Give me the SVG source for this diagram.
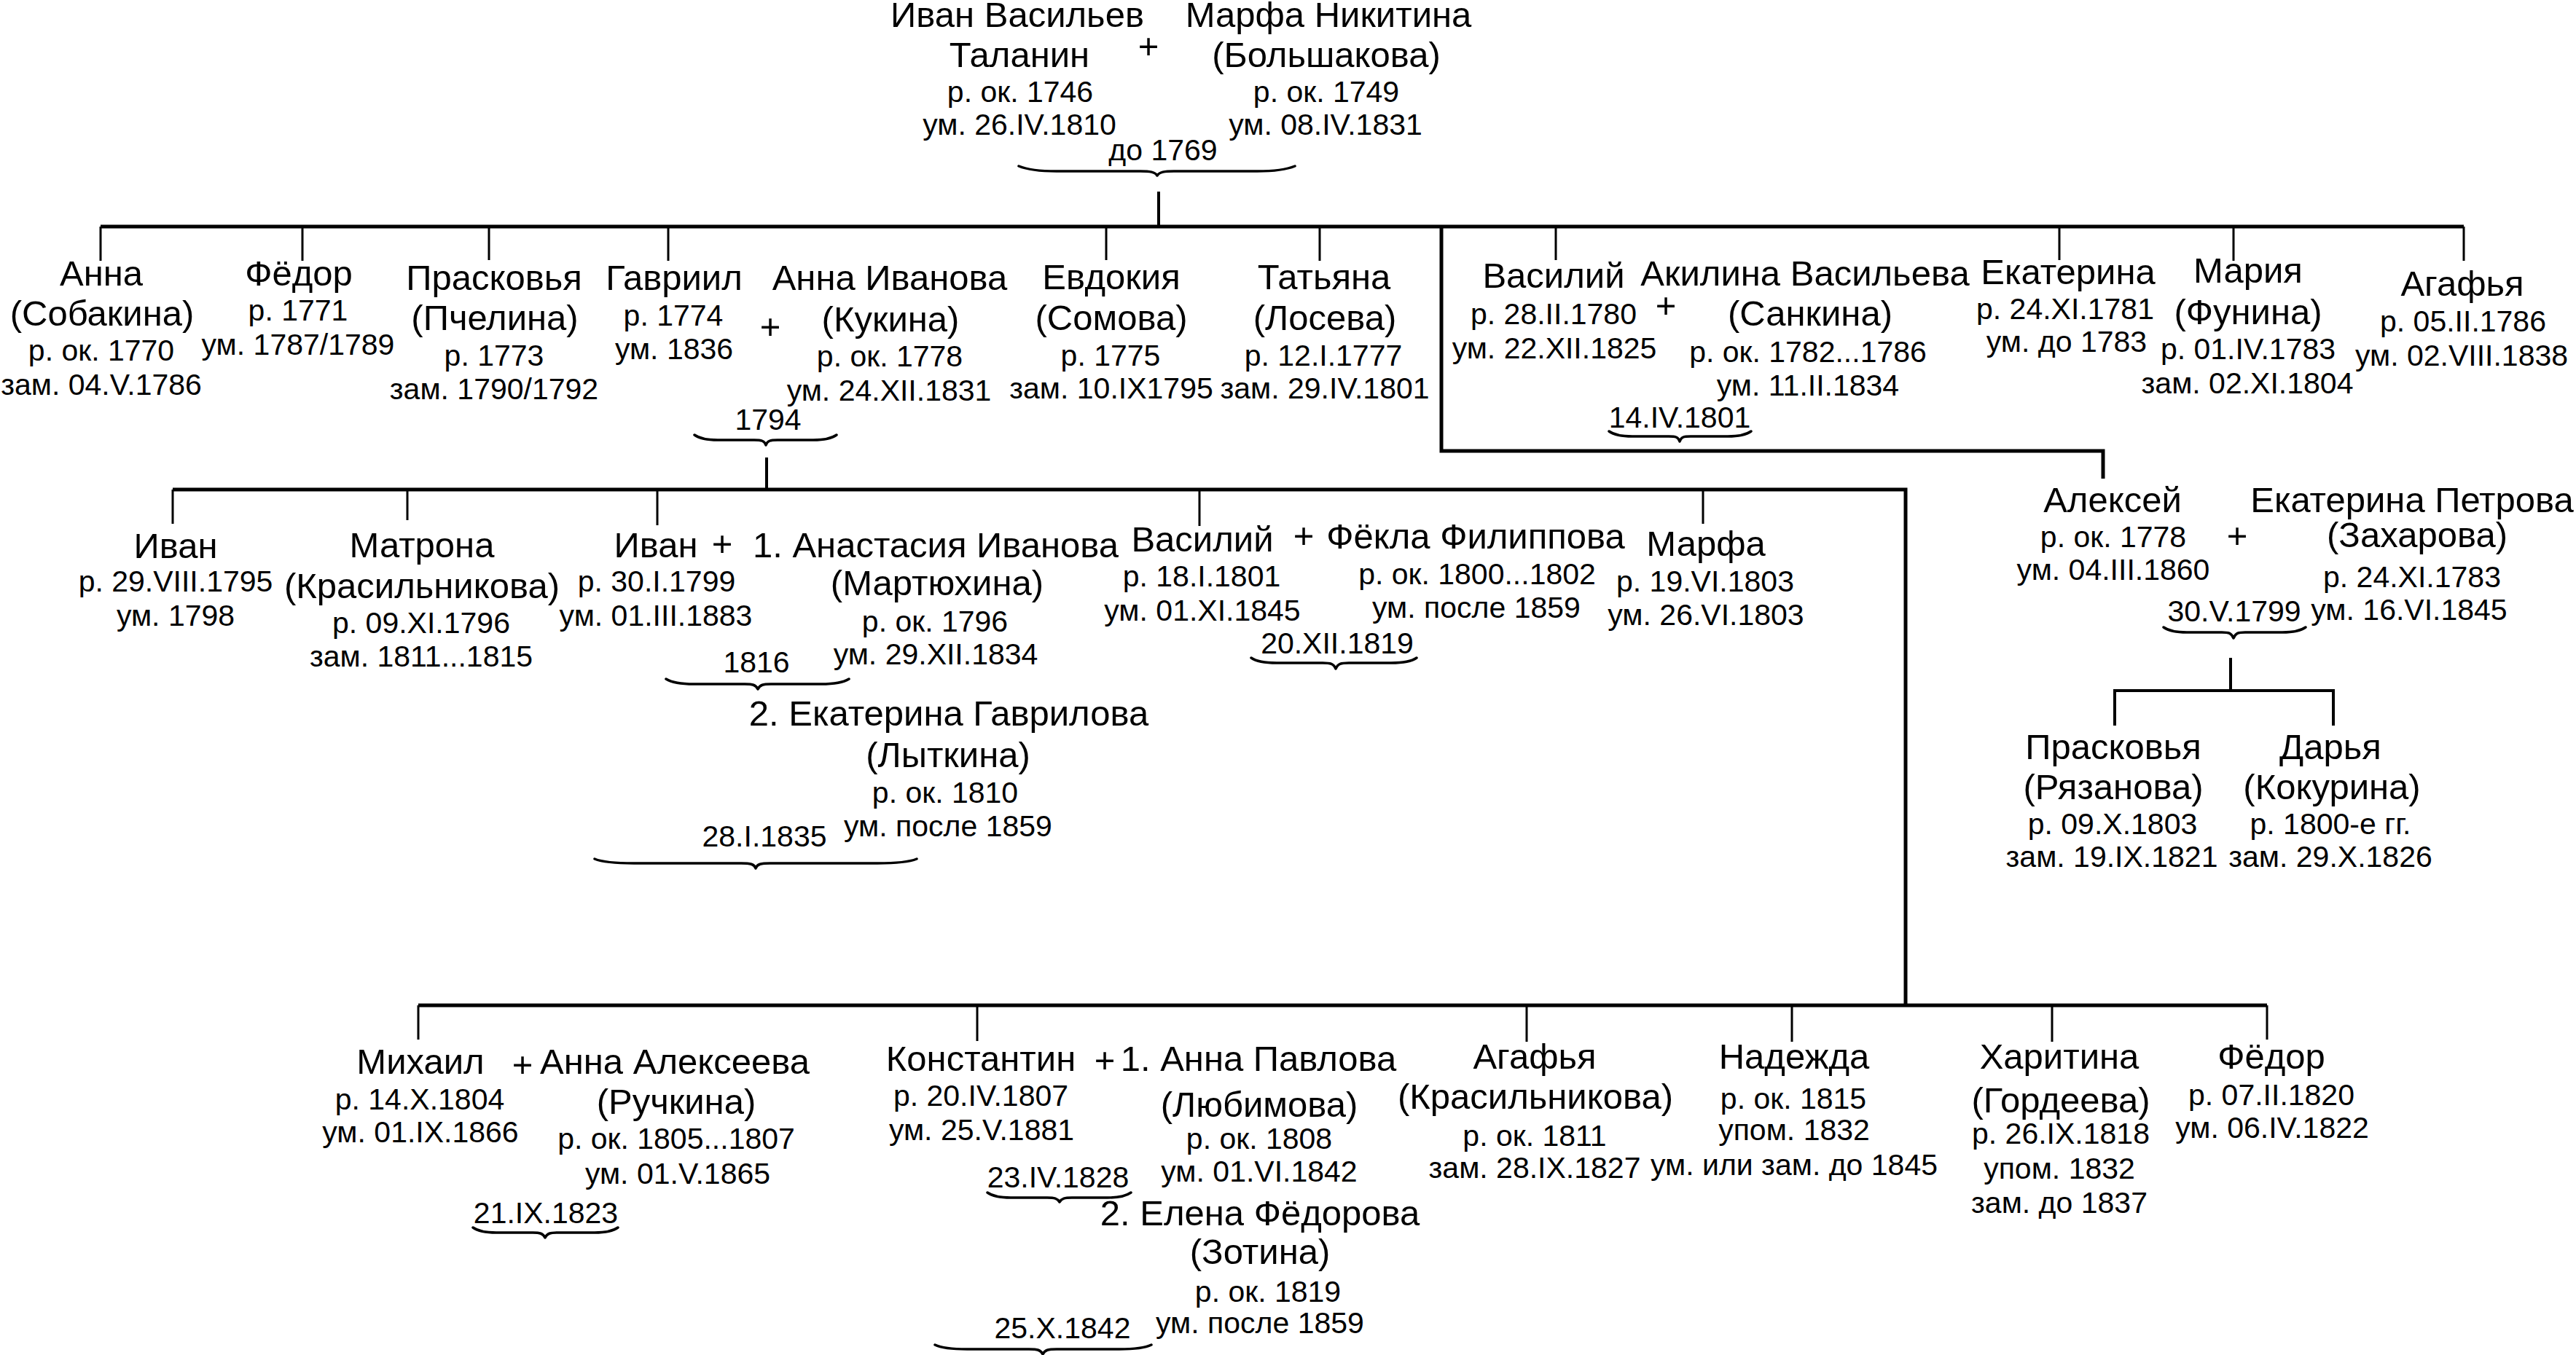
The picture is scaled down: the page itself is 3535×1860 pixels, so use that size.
<svg xmlns="http://www.w3.org/2000/svg" width="3535" height="1860" viewBox="0 0 3535 1860">
<style>
text{font-family:"Liberation Sans",Arial,sans-serif;fill:#000;text-anchor:middle}
.n{font-size:49px}
.d{font-size:41px}
.p{font-size:49px}
.bus{stroke:#000;stroke-width:5;fill:none}
.tr{stroke:#000;stroke-width:4;fill:none}
.dr{stroke:#000;stroke-width:3;fill:none}
.br{stroke:#000;stroke-width:3.5;fill:none;stroke-linejoin:round;stroke-linecap:round}
</style>
<rect width="3535" height="1860" fill="#fff"/>
<g id="connectors">
<path class="tr" d="M1590 263 V311"/>
<path class="bus" d="M138 311 H3381"/>
<path class="dr" d="M138 311 V358 M415 311 V358 M671 311 V357 M917 311 V358 M1518 311 V357 M1811 311 V358 M2135 311 V357 M2826 311 V357 M3065 311 V358 M3381 311 V358"/>
<path class="bus" d="M1978 311 V619 H2886 V657"/>
<path class="tr" d="M1052 628 V672"/>
<path class="bus" d="M237 672 H2615 V1380"/>
<path class="dr" d="M237 672 V719 M559 672 V714 M902 672 V721 M1646 672 V722 M2337 672 V719"/>
<path class="tr" d="M3061 903 V948"/>
<path class="tr" d="M2902 996 V948 H3202 V996"/>
<path class="bus" d="M574 1380 H3111"/>
<path class="dr" d="M574 1380 V1427 M1341 1380 V1429 M2095 1380 V1430 M2459 1380 V1430 M2816 1380 V1430 M3111 1380 V1427"/>
<path class="br" d="M1398 228 C1410 233 1425 235 1450 235 L1565 235 C1578 235 1585 236 1588 241 C1591 236 1598 235 1611 235 L1725 235 C1750 235 1765 233 1777 228"/>
<path class="br" d="M953 597 C960 602 970 604 985 604 L1035 604 C1045 604 1049 605 1051 611 C1053 605 1057 604 1067 604 L1116 604 C1131 604 1141 602 1148 597"/>
<path class="br" d="M2208 592 C2215 597 2225 599 2240 599 L2290 599 C2300 599 2303 600 2305 606 C2307 600 2310 599 2320 599 L2371 599 C2386 599 2396 597 2403 592"/>
<path class="br" d="M914 932 C922 937 934 939 952 939 L1022 939 C1033 939 1037 940 1040 946 C1043 940 1047 939 1058 939 L1127 939 C1145 939 1157 937 1165 932"/>
<path class="br" d="M816 1179 C828 1184 845 1185 870 1185 L1017 1185 C1030 1185 1035 1186 1037 1192 C1039 1186 1044 1185 1057 1185 L1204 1185 C1229 1185 1246 1184 1258 1179"/>
<path class="br" d="M1717 903 C1724 908 1735 910 1752 910 L1815 910 C1826 910 1830 911 1833 918 C1836 911 1840 910 1851 910 L1909 910 C1926 910 1937 908 1944 903"/>
<path class="br" d="M2969 861 C2976 866 2986 868 3001 868 L3049 868 C3059 868 3062 869 3065 876 C3068 869 3071 868 3081 868 L3132 868 C3147 868 3157 866 3164 861"/>
<path class="br" d="M649 1685 C656 1690 666 1692 681 1692 L731 1692 C741 1692 745 1693 748 1699 C751 1693 755 1692 765 1692 L816 1692 C831 1692 841 1690 848 1685"/>
<path class="br" d="M1355 1637 C1362 1642 1372 1644 1387 1644 L1437 1644 C1447 1644 1451 1645 1454 1650 C1457 1645 1461 1644 1471 1644 L1520 1644 C1535 1644 1545 1642 1552 1637"/>
<path class="br" d="M1283 1846 C1293 1851 1307 1852 1327 1852 L1412 1852 C1424 1852 1428 1853 1431 1859 C1434 1853 1438 1852 1450 1852 L1536 1852 C1556 1852 1570 1851 1580 1846"/>
</g>
<g id="ivan-talanin">
<text class="n" x="1396" y="37">Иван Васильев</text>
<text class="n" x="1399" y="92">Таланин</text>
<text class="d" x="1400" y="140">р. ок. 1746</text>
<text class="d" x="1399" y="185">ум. 26.IV.1810</text>
</g>
<g id="plus-top"><text class="p" x="1576" y="80">+</text></g>
<g id="marfa-nikitina">
<text class="n" x="1823" y="37">Марфа Никитина</text>
<text class="n" x="1820" y="92">(Большакова)</text>
<text class="d" x="1820" y="140">р. ок. 1749</text>
<text class="d" x="1819" y="185">ум. 08.IV.1831</text>
</g>
<g id="marr-top"><text class="d" x="1596" y="220">до 1769</text></g>
<g id="anna-1770">
<text class="n" x="139" y="392">Анна</text>
<text class="n" x="140" y="447">(Собакина)</text>
<text class="d" x="139" y="495">р. ок. 1770</text>
<text class="d" x="139" y="542">зам. 04.V.1786</text>
</g>
<g id="fedor-1771">
<text class="n" x="410" y="392">Фёдор</text>
<text class="d" x="409" y="440">р. 1771</text>
<text class="d" x="409" y="487">ум. 1787/1789</text>
</g>
<g id="praskovya-1773">
<text class="n" x="678" y="398">Прасковья</text>
<text class="n" x="679" y="453">(Пчелина)</text>
<text class="d" x="678" y="502">р. 1773</text>
<text class="d" x="678" y="548">зам. 1790/1792</text>
</g>
<g id="gavriil">
<text class="n" x="925" y="398">Гавриил</text>
<text class="d" x="924" y="447">р. 1774</text>
<text class="d" x="925" y="493">ум. 1836</text>
</g>
<g id="plus-gavriil"><text class="p" x="1057" y="465">+</text></g>
<g id="anna-kukina">
<text class="n" x="1221" y="398">Анна Иванова</text>
<text class="n" x="1222" y="455">(Кукина)</text>
<text class="d" x="1221" y="503">р. ок. 1778</text>
<text class="d" x="1220" y="550">ум. 24.XII.1831</text>
</g>
<g id="marr-1794"><text class="d" x="1054" y="590">1794</text></g>
<g id="evdokiya">
<text class="n" x="1525" y="397">Евдокия</text>
<text class="n" x="1525" y="453">(Сомова)</text>
<text class="d" x="1524" y="502">р. 1775</text>
<text class="d" x="1525" y="547">зам. 10.IX1795</text>
</g>
<g id="tatyana">
<text class="n" x="1817" y="397">Татьяна</text>
<text class="n" x="1818" y="453">(Лосева)</text>
<text class="d" x="1816" y="502">р. 12.I.1777</text>
<text class="d" x="1818" y="547">зам. 29.IV.1801</text>
</g>
<g id="vasiliy-1780">
<text class="n" x="2132" y="395">Василий</text>
<text class="d" x="2132" y="445">р. 28.II.1780</text>
<text class="d" x="2133" y="492">ум. 22.XII.1825</text>
</g>
<g id="plus-vasiliy"><text class="p" x="2286" y="436">+</text></g>
<g id="akilina">
<text class="n" x="2477" y="392">Акилина Васильева</text>
<text class="n" x="2484" y="447">(Санкина)</text>
<text class="d" x="2481" y="497">р. ок. 1782...1786</text>
<text class="d" x="2481" y="543">ум. 11.II.1834</text>
</g>
<g id="marr-1801"><text class="d" x="2305" y="587">14.IV.1801</text></g>
<g id="ekaterina-1781">
<text class="n" x="2838" y="390">Екатерина</text>
<text class="d" x="2834" y="438">р. 24.XI.1781</text>
<text class="d" x="2836" y="483">ум. до 1783</text>
</g>
<g id="mariya-1783">
<text class="n" x="3085" y="388">Мария</text>
<text class="n" x="3085" y="445">(Фунина)</text>
<text class="d" x="3085" y="493">р. 01.IV.1783</text>
<text class="d" x="3084" y="540">зам. 02.XI.1804</text>
</g>
<g id="agafya-1786">
<text class="n" x="3379" y="406">Агафья</text>
<text class="d" x="3380" y="455">р. 05.II.1786</text>
<text class="d" x="3378" y="502">ум. 02.VIII.1838</text>
</g>
<g id="ivan-1795">
<text class="n" x="241" y="766">Иван</text>
<text class="d" x="241" y="812">р. 29.VIII.1795</text>
<text class="d" x="241" y="859">ум. 1798</text>
</g>
<g id="matrona">
<text class="n" x="579" y="765">Матрона</text>
<text class="n" x="579" y="821">(Красильникова)</text>
<text class="d" x="578" y="869">р. 09.XI.1796</text>
<text class="d" x="578" y="915">зам. 1811...1815</text>
</g>
<g id="ivan-1799">
<text class="n" x="900" y="765">Иван</text>
<text class="d" x="901" y="812">р. 30.I.1799</text>
<text class="d" x="900" y="859">ум. 01.III.1883</text>
</g>
<g id="plus-ivan"><text class="p" x="991" y="763">+</text></g>
<g id="anastasiya">
<text class="n" x="1284" y="765">1. Анастасия Иванова</text>
<text class="n" x="1286" y="817">(Мартюхина)</text>
<text class="d" x="1283" y="867">р. ок. 1796</text>
<text class="d" x="1284" y="912">ум. 29.XII.1834</text>
</g>
<g id="marr-1816"><text class="d" x="1038" y="923">1816</text></g>
<g id="ekaterina-lytkina">
<text class="n" x="1302" y="996">2. Екатерина Гаврилова</text>
<text class="n" x="1301" y="1053">(Лыткина)</text>
<text class="d" x="1297" y="1102">р. ок. 1810</text>
<text class="d" x="1301" y="1148">ум. после 1859</text>
</g>
<g id="marr-1835"><text class="d" x="1049" y="1162">28.I.1835</text></g>
<g id="vasiliy-1801">
<text class="n" x="1650" y="757">Василий</text>
<text class="d" x="1649" y="805">р. 18.I.1801</text>
<text class="d" x="1650" y="852">ум. 01.XI.1845</text>
</g>
<g id="plus-vasiliy2"><text class="p" x="1789" y="752">+</text></g>
<g id="fekla">
<text class="n" x="2025" y="753">Фёкла Филиппова</text>
<text class="d" x="2027" y="802">р. ок. 1800...1802</text>
<text class="d" x="2026" y="848">ум. после 1859</text>
</g>
<g id="marr-1819"><text class="d" x="1835" y="897">20.XII.1819</text></g>
<g id="marfa-1803">
<text class="n" x="2341" y="763">Марфа</text>
<text class="d" x="2340" y="812">р. 19.VI.1803</text>
<text class="d" x="2341" y="858">ум. 26.VI.1803</text>
</g>
<g id="aleksey">
<text class="n" x="2899" y="703">Алексей</text>
<text class="d" x="2900" y="751">р. ок. 1778</text>
<text class="d" x="2900" y="796">ум. 04.III.1860</text>
</g>
<g id="plus-aleksey"><text class="p" x="3070" y="752">+</text></g>
<g id="ekaterina-zakharova">
<text class="n" x="3310" y="703">Екатерина Петрова</text>
<text class="n" x="3317" y="751">(Захарова)</text>
<text class="d" x="3310" y="806">р. 24.XI.1783</text>
<text class="d" x="3306" y="851">ум. 16.VI.1845</text>
</g>
<g id="marr-1799"><text class="d" x="3066" y="853">30.V.1799</text></g>
<g id="praskovya-1803">
<text class="n" x="2900" y="1042">Прасковья</text>
<text class="n" x="2900" y="1097">(Рязанова)</text>
<text class="d" x="2899" y="1145">р. 09.X.1803</text>
<text class="d" x="2898" y="1190">зам. 19.IX.1821</text>
</g>
<g id="darya">
<text class="n" x="3198" y="1042">Дарья</text>
<text class="n" x="3200" y="1097">(Кокурина)</text>
<text class="d" x="3198" y="1145">р. 1800-е гг.</text>
<text class="d" x="3198" y="1190">зам. 29.X.1826</text>
</g>
<g id="mikhail">
<text class="n" x="577" y="1474">Михаил</text>
<text class="d" x="576" y="1523">р. 14.X.1804</text>
<text class="d" x="577" y="1568">ум. 01.IX.1866</text>
</g>
<g id="plus-mikhail"><text class="p" x="717" y="1478">+</text></g>
<g id="anna-ruchkina">
<text class="n" x="926" y="1474">Анна Алексеева</text>
<text class="n" x="928" y="1529">(Ручкина)</text>
<text class="d" x="928" y="1577">р. ок. 1805...1807</text>
<text class="d" x="930" y="1625">ум. 01.V.1865</text>
</g>
<g id="marr-1823"><text class="d" x="749" y="1679">21.IX.1823</text></g>
<g id="konstantin">
<text class="n" x="1346" y="1470">Константин</text>
<text class="d" x="1346" y="1518">р. 20.IV.1807</text>
<text class="d" x="1347" y="1565">ум. 25.V.1881</text>
</g>
<g id="plus-konstantin"><text class="p" x="1516" y="1472">+</text></g>
<g id="anna-lyubimova">
<text class="n" x="1727" y="1470">1. Анна Павлова</text>
<text class="n" x="1728" y="1533">(Любимова)</text>
<text class="d" x="1728" y="1577">р. ок. 1808</text>
<text class="d" x="1728" y="1622">ум. 01.VI.1842</text>
</g>
<g id="marr-1828"><text class="d" x="1452" y="1630">23.IV.1828</text></g>
<g id="elena-zotina">
<text class="n" x="1729" y="1682">2. Елена Фёдорова</text>
<text class="n" x="1729" y="1735">(Зотина)</text>
<text class="d" x="1740" y="1787">р. ок. 1819</text>
<text class="d" x="1729" y="1830">ум. после 1859</text>
</g>
<g id="marr-1842"><text class="d" x="1458" y="1837">25.X.1842</text></g>
<g id="agafya-1811">
<text class="n" x="2106" y="1467">Агафья</text>
<text class="n" x="2107" y="1522">(Красильникова)</text>
<text class="d" x="2106" y="1573">р. ок. 1811</text>
<text class="d" x="2106" y="1617">зам. 28.IX.1827</text>
</g>
<g id="nadezhda">
<text class="n" x="2462" y="1467">Надежда</text>
<text class="d" x="2461" y="1522">р. ок. 1815</text>
<text class="d" x="2462" y="1565">упом. 1832</text>
<text class="d" x="2462" y="1613">ум. или зам. до 1845</text>
</g>
<g id="kharitina">
<text class="n" x="2826" y="1467">Харитина</text>
<text class="n" x="2828" y="1527">(Гордеева)</text>
<text class="d" x="2828" y="1570">р. 26.IX.1818</text>
<text class="d" x="2826" y="1618">упом. 1832</text>
<text class="d" x="2826" y="1665">зам. до 1837</text>
</g>
<g id="fedor-1820">
<text class="n" x="3117" y="1467">Фёдор</text>
<text class="d" x="3117" y="1517">р. 07.II.1820</text>
<text class="d" x="3118" y="1562">ум. 06.IV.1822</text>
</g>
</svg>
